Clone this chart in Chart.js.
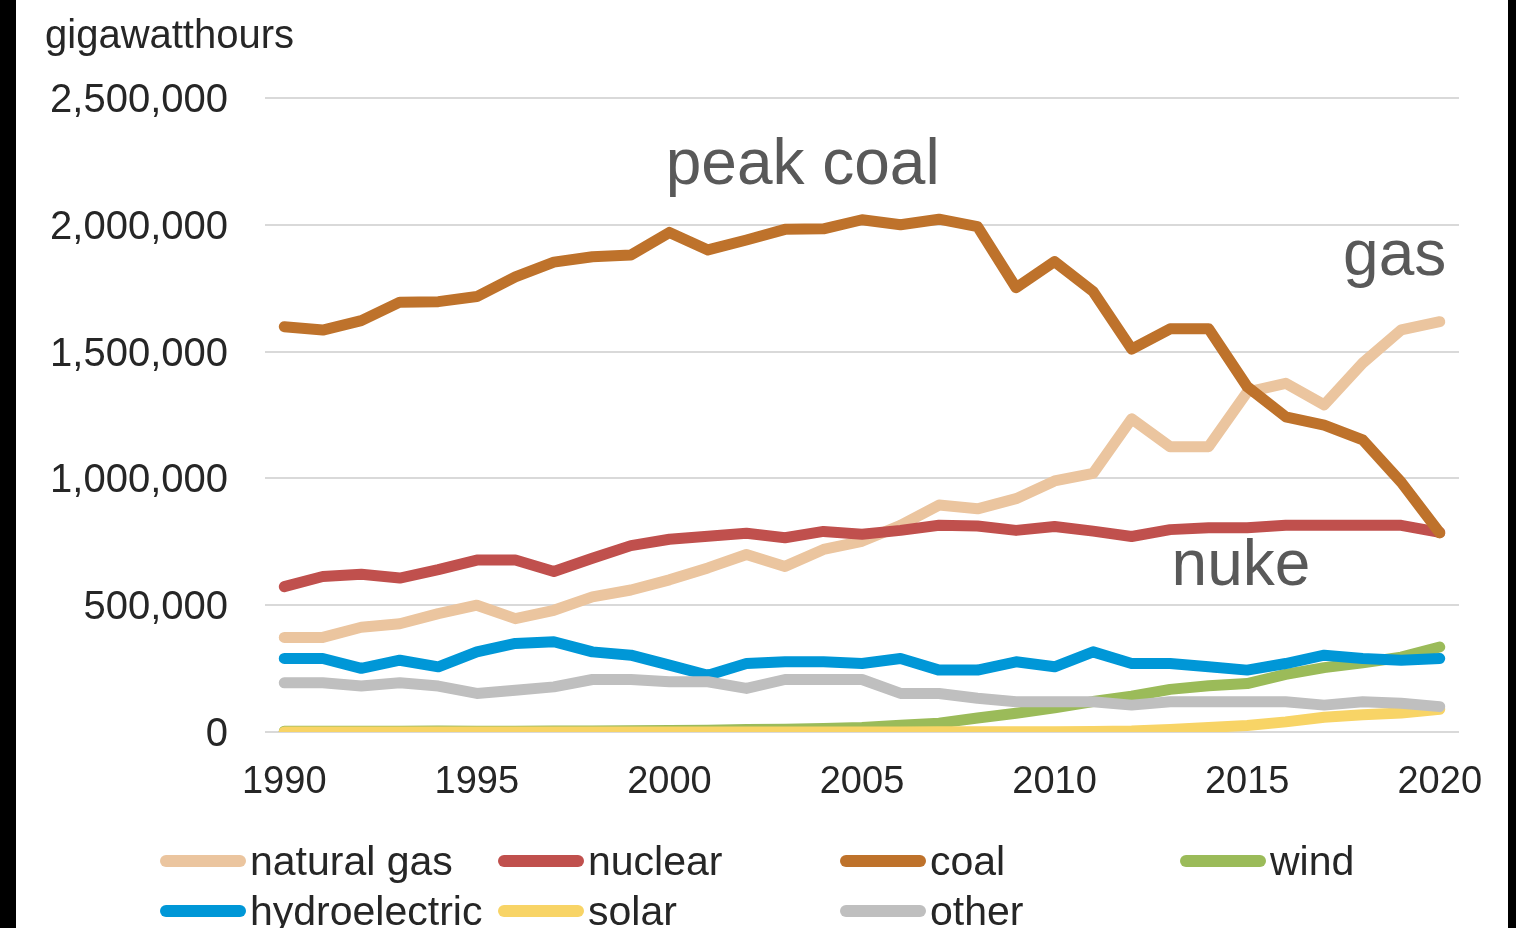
<!DOCTYPE html>
<html>
<head>
<meta charset="utf-8">
<script src="https://cdn.jsdelivr.net/npm/chart.js@4.4.1/dist/chart.umd.min.js"></script>
<style>
  html, body { margin: 0; padding: 0; background: #fff; }
  #wrap { position: relative; width: 1516px; height: 928px; overflow: hidden; background: #fff;
          font-family: "Liberation Sans", Arial, sans-serif; }
  #chart { position: absolute; left: 0; top: 0; }
  .unit { position: absolute; left: 45px; top: 12px; font-size: 40px; color: #262626; }
  .item { position: absolute; display: flex; align-items: center; font-size: 41px; color: #262626;
          white-space: nowrap; line-height: 46px; }
  .swatch { width: 86px; height: 12px; border-radius: 6px; margin-right: 4px; }
  .edge { position: absolute; top: 0; height: 928px; background: #000; }
</style>
</head>
<body>
<div id="wrap">
  <canvas id="chart" width="1516" height="928"></canvas>
  <div class="unit">gigawatthours</div>
  <div id="legend"></div>
  <div class="edge" style="left:0;width:16px"></div>
  <div class="edge" style="left:1508px;width:8px"></div>
</div>
<script>
/* ── Datos (GWh) ── */
const years = ['1990','1991','1992','1993','1994','1995','1996','1997','1998','1999',
               '2000','2001','2002','2003','2004','2005','2006','2007','2008','2009',
               '2010','2011','2012','2013','2014','2015','2016','2017','2018','2019','2020'];
const xTickLabels = ['1990','1995','2000','2005','2010','2015','2020'];
const yTicks = [0, 500000, 1000000, 1500000, 2000000, 2500000];

const naturalGas = [373000,373000,413000,427000,467000,500000,447000,480000,533000,560000,
                    600000,647000,700000,653000,720000,752000,815000,895000,880000,920000,
                    990000,1020000,1235000,1125000,1125000,1340000,1375000,1290000,1455000,1586000,1618000];
const nuclear    = [573000,613000,622000,607000,640000,678000,678000,633000,685000,735000,
                    760000,772000,784000,766000,791000,780000,795000,815000,812000,795000,
                    810000,792000,771000,798000,805000,805000,815000,815000,815000,815000,787000];
const coal       = [1598000,1585000,1622000,1695000,1697000,1717000,1795000,1853000,1874000,1881000,
                    1970000,1901000,1940000,1982000,1984000,2020000,2000000,2022000,1993000,1752000,
                    1855000,1737000,1510000,1590000,1590000,1362000,1243000,1210000,1152000,985000,785000];
const wind       = [3000,3000,3000,3000,4000,3000,3000,4000,4000,5000,
                    6000,7000,10000,11000,14000,18000,27000,35000,55000,74000,
                    95000,120000,141000,168000,182000,191000,227000,254000,273000,295000,335000];
const hydro      = [290000,290000,251000,283000,257000,316000,349000,356000,316000,303000,
                    264000,224000,270000,277000,277000,270000,290000,244000,244000,277000,
                    257000,316000,270000,270000,257000,244000,270000,303000,290000,283000,290000];
const solar      = [0,0,0,0,0,0,0,0,0,0,
                    0,0,0,0,0,0,0,1000,1000,1000,
                    1000,2000,4000,10000,18000,26000,40000,58000,68000,75000,90000];
const other      = [194000,194000,181000,194000,181000,152000,165000,178000,207000,207000,
                    198000,198000,172000,207000,207000,207000,152000,152000,133000,119000,
                    119000,119000,106000,119000,119000,119000,119000,106000,119000,113000,100000];

const series = [
  { label: 'natural gas',   data: naturalGas, color: '#EBC59F' },
  { label: 'nuclear',       data: nuclear,    color: '#C0504D' },
  { label: 'coal',          data: coal,       color: '#BE722B' },
  { label: 'wind',          data: wind,       color: '#9BBB59' },
  { label: 'hydroelectric', data: hydro,      color: '#0097D7' },
  { label: 'solar',         data: solar,      color: '#F8D466' },
  { label: 'other',         data: other,      color: '#BFBFBF' },
];

/* ── Rótulos sobre el gráfico ── */
const notes = [
  { text: 'peak coal', at: 13.46, value: 2160000 },
  { text: 'gas',       at: 28.83, value: 1802000 },
  { text: 'nuke',      at: 24.84, value: 580000 },
];

const notesPlugin = {
  id: 'notes',
  afterDatasetsDraw(chart) {
    const { ctx, scales: { x, y } } = chart;
    ctx.save();
    ctx.font = '64px "Liberation Sans", Arial, sans-serif';
    ctx.fillStyle = '#595959';
    ctx.textAlign = 'center';
    ctx.textBaseline = 'alphabetic';
    notes.forEach(n => ctx.fillText(n.text, x.getPixelForValue(n.at), y.getPixelForValue(n.value)));
    ctx.restore();
  }
};

Chart.defaults.font.family = '"Liberation Sans", Arial, sans-serif';
Chart.defaults.color = '#262626';

new Chart(document.getElementById('chart'), {
  type: 'line',
  data: {
    labels: years,
    datasets: series.map((s, i) => ({
      label: s.label,
      data: s.data,
      borderColor: s.color,
      backgroundColor: s.color,
      borderWidth: 11,
      borderCapStyle: 'round',
      borderJoinStyle: 'round',
      pointRadius: 0,
      tension: 0,
      order: series.length - i,   // later series on top
    })),
  },
  options: {
    responsive: false,
    animation: false,
    devicePixelRatio: 1,
    layout: { padding: { top: 98, right: 57, left: 0, bottom: 0 } },
    plugins: { legend: { display: false }, tooltip: { enabled: false } },
    scales: {
      x: {
        offset: true,
        grid: { display: false, drawTicks: false },
        border: { display: false },
        ticks: {
          autoSkip: false, maxRotation: 0, padding: 28,
          font: { size: 38 },
          callback: (v, i) => xTickLabels.includes(years[i]) ? years[i] : '',
        },
        afterFit: s => { s.height = 196; },
      },
      y: {
        min: 0, max: 2500000,
        afterBuildTicks: s => { s.ticks = yTicks.map(v => ({ value: v })); },
        grid: { color: '#D9D9D9', lineWidth: 2, drawTicks: false },
        border: { display: false },
        ticks: {
          padding: 37,
          labelOffset: 3,
          font: { size: 40 },
          callback: v => v.toLocaleString('en-US'),
        },
        afterFit: s => { s.width = 265; },
      },
    },
  },
  plugins: [notesPlugin],
});

/* ── Leyenda en 4 columnas ── */
const legendCols = [160, 498, 840, 1180];
const legendRows = [861, 911];
const legend = document.getElementById('legend');
series.forEach((s, i) => {
  const el = document.createElement('div');
  el.className = 'item';
  el.style.left = legendCols[i % 4] + 'px';
  el.style.top = (legendRows[Math.floor(i / 4)] - 23) + 'px';
  el.innerHTML = `<span class="swatch" style="background:${s.color}"></span><span>${s.label}</span>`;
  legend.appendChild(el);
});
</script>
</body>
</html>
